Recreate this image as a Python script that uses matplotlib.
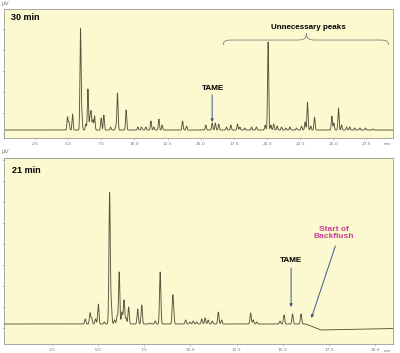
import numpy as np
import matplotlib
matplotlib.use("Agg")
import matplotlib.pyplot as plt
from matplotlib.path import Path
from matplotlib.patches import PathPatch

# ---------------- data ----------------
# 30 min run: peak retention times (min) and heights (arbitrary µV units)
top_rt = [4.95, 5.06, 5.33, 5.93, 6.03, 6.33, 6.49, 6.64, 6.73, 6.86, 6.99,
          7.49, 7.69, 8.20, 8.60, 8.72, 9.37, 10.26, 10.53, 10.86, 11.24,
          11.46, 11.84, 12.09, 13.63, 13.93,
          15.38, 15.86, 16.10, 16.36, 16.94, 17.27, 17.77, 17.95, 18.33,
          18.83, 19.20, 19.86, 20.08, 20.29, 20.50, 20.76, 21.09, 21.42,
          21.72, 22.22, 22.60, 22.87, 23.05, 23.30, 23.58, 24.89, 25.04,
          25.39, 25.62, 26.00, 26.24, 26.62, 27.00, 27.43, 27.98]
top_h = [13, 8, 16, 101, 15, 6, 41, 12, 18, 10, 14,
         12, 15, 3, 4, 37, 20, 3, 3, 3, 9,
         3, 11, 5, 9, 4,
         5, 7, 7, 6, 3, 5, 6, 3, 2,
         3, 3, 5, 88, 5, 6, 4, 3, 2,
         3, 2, 4, 8, 28, 4, 13, 14, 7,
         22, 5, 3, 3, 2, 2, 2, 1]

# 21 min run (with backflush)
bot_rt = [4.30, 4.56, 4.65, 4.86, 5.01, 5.33, 5.62, 5.71, 5.89, 6.03, 6.14,
          6.29, 6.40, 6.51, 6.65, 7.14, 7.36, 7.81, 8.09, 8.36, 9.04, 9.09,
          9.74, 9.97, 10.15, 10.34, 10.61, 10.79, 10.96, 11.18, 11.51, 11.69,
          13.26, 13.40, 13.59, 14.85, 15.07, 15.53, 15.99]
bot_h = [5, 11, 6, 5, 20, 2, 131, 19, 4, 8, 52,
         12, 24, 6, 17, 15, 19, 1, 3, 52, 26, 8,
         4, 2, 3, 2, 5, 6, 4, 3, 12, 4,
         11, 4, 2, 3, 9, 10, 10]
# baseline drift after start of backflush (time, level)
bot_base_t = [0.0, 16.25, 17.05, 21.0]
bot_base_v = [0.0, 0.0, -6.0, -4.5]

top_ticks = [2.5, 5.0, 7.5, 10.0, 12.5, 15.0, 17.5, 20.0, 22.5, 25.0, 27.5]
top_ticklabels = ["2.5", "5.0", "7.5", "10.0", "12.5", "15.0", "17.5", "20.0",
                  "22.5", "25.0", "27.5"]
bot_ticks = [2.5, 5.0, 7.5, 10.0, 12.5, 15.0, 17.5, 20.0]
bot_ticklabels = ["2.5", "5.0", "7.5", "10.0", "12.5", "15.0", "17.5", "20.0"]

# ---------------- style ----------------
BG = "#FCF9D0"
LINE = "#55543c"
SPINE = "#9a9a90"
ARROW = "#3d5590"
PINK = "#c83e98"
FONT = "Liberation Sans"

fig = plt.figure(figsize=(4.0, 3.53), dpi=100)
fig.patch.set_facecolor("white")


def trace(t, rts, hs, sigma):
    y = np.zeros_like(t)
    for r, h in zip(rts, hs):
        y += h * np.exp(-0.5 * ((t - r) / sigma) ** 2)
    return y


def style_axes(ax, ticks, labels, yticks):
    ax.set_facecolor(BG)
    for s in ax.spines.values():
        s.set_color(SPINE)
        s.set_linewidth(0.6)
    ax.set_xticks(ticks)
    ax.set_xticklabels(labels)
    ax.tick_params(axis="x", length=1.5, width=0.4, pad=1.5, labelsize=3.2,
                   colors=SPINE, labelcolor="#777777")
    ax.set_yticks(yticks)
    ax.set_yticklabels([])
    ax.tick_params(axis="y", length=1.5, width=0.4, colors=SPINE)
    ax.text(0.995, -0.028, "min", transform=ax.transAxes, fontsize=3.2,
            color="#777777", ha="right", va="top", family=FONT)
    ax.text(-0.005, 1.02, "µV", transform=ax.transAxes, fontsize=4.5,
            color="#777777", ha="left", va="bottom", family=FONT)


# ---------------- top panel: 30 min ----------------
ax1 = fig.add_axes([0.01, 0.609, 0.9725, 0.3654])
t1 = np.linspace(0.16, 29.5, 8000)
y1 = trace(t1, top_rt, top_h, 0.042)
ax1.plot(t1, y1, color=LINE, lw=0.65)
ax1.set_xlim(0.16, 29.5)
ax1.set_ylim(-8, 121)
style_axes(ax1, top_ticks, top_ticklabels, np.arange(-4, 121, 21))
ax1.text(0.018, 0.934, "30 min", transform=ax1.transAxes, fontsize=6.5,
         fontweight="bold", family=FONT, ha="left", va="center")
ax1.text(15.9, 42, "TAME", fontsize=5.9, fontweight="bold", family=FONT,
         ha="center", va="center")
ax1.annotate("", xy=(15.86, 8), xytext=(15.86, 35),
             arrowprops=dict(arrowstyle="-|>", color=ARROW, lw=0.7,
                             mutation_scale=4, shrinkA=0, shrinkB=0))
ax1.text(23.1, 103, "Unnecessary peaks", fontsize=5.8, fontweight="bold",
         family=FONT, ha="center", va="center")
# curly brace
x0, xm, x1 = 16.7, 22.97, 29.16
yb, yf, yt = 85, 90, 97
verts = [(x0, yb), (x0, yf), (x0 + 0.3, yf), (x0 + 0.8, yf),
         (xm - 0.8, yf),
         (xm - 0.3, yf), (xm, yf), (xm, yt),
         (xm, yf), (xm + 0.3, yf), (xm + 0.8, yf),
         (x1 - 0.8, yf),
         (x1 - 0.3, yf), (x1, yf), (x1, yb)]
codes = [Path.MOVETO, Path.CURVE4, Path.CURVE4, Path.CURVE4,
         Path.LINETO,
         Path.CURVE4, Path.CURVE4, Path.CURVE4,
         Path.CURVE4, Path.CURVE4, Path.CURVE4,
         Path.LINETO,
         Path.CURVE4, Path.CURVE4, Path.CURVE4]
ax1.add_patch(PathPatch(Path(verts, codes), fill=False, edgecolor="#808080",
                        lw=0.6))

# ---------------- bottom panel: 21 min ----------------
ax2 = fig.add_axes([0.01, 0.0255, 0.9725, 0.527])
t2 = np.linspace(-0.1, 20.97, 8000)
y2 = trace(t2, bot_rt, bot_h, 0.035) + np.interp(t2, bot_base_t, bot_base_v)
ax2.plot(t2, y2, color=LINE, lw=0.65)
ax2.set_xlim(-0.1, 20.97)
ax2.set_ylim(-20, 166)
style_axes(ax2, bot_ticks, bot_ticklabels, np.arange(-3.7, 166, 21))
ax2.text(0.02, 0.935, "21 min", transform=ax2.transAxes, fontsize=6.5,
         fontweight="bold", family=FONT, ha="left", va="center")
ax2.text(15.45, 63, "TAME", fontsize=5.9, fontweight="bold", family=FONT,
         ha="center", va="center")
ax2.annotate("", xy=(15.45, 17), xytext=(15.45, 56),
             arrowprops=dict(arrowstyle="-|>", color=ARROW, lw=0.7,
                             mutation_scale=4, shrinkA=0, shrinkB=0))
ax2.text(17.75, 91, "Start of\nBackflush", fontsize=6, fontweight="bold",
         family=FONT, color=PINK, ha="center", va="center", linespacing=1.1)
ax2.annotate("", xy=(16.55, 6), xytext=(17.85, 78),
             arrowprops=dict(arrowstyle="-|>", color=ARROW, lw=0.7,
                             mutation_scale=4, shrinkA=0, shrinkB=0))

fig.savefig("out.png", dpi=100, facecolor="white")
